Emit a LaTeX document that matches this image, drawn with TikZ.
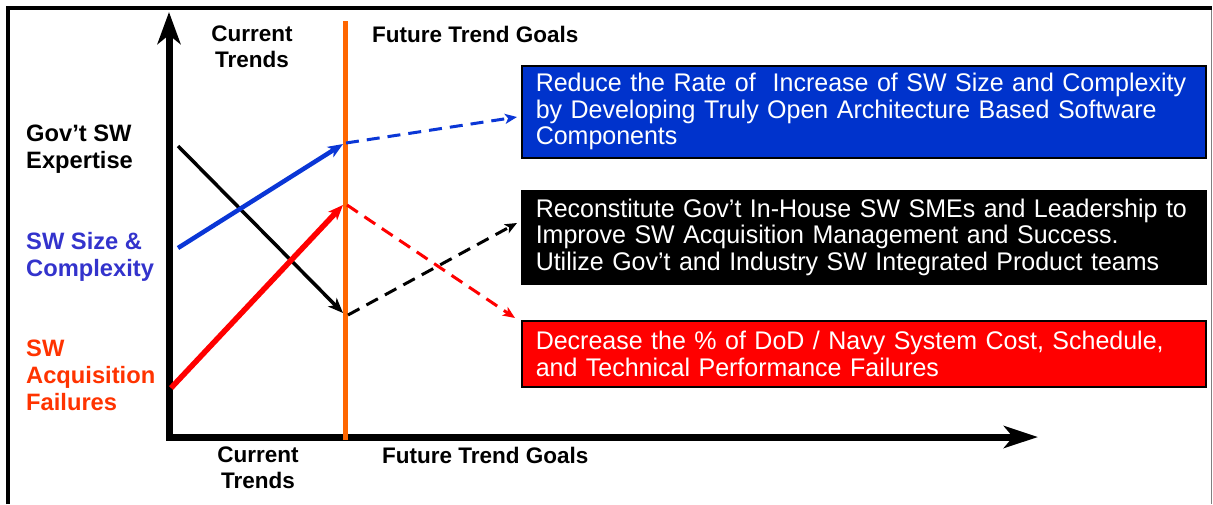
\documentclass[tikz,border=0pt]{standalone}
\usepackage{fontspec}
\setmainfont{Liberation Sans}
\newfontfamily\goalfont[FakeStretch=0.98]{Liberation Sans}
\usepackage{tikz}
\usetikzlibrary{positioning, arrows.meta}
\definecolor{goalblue}{HTML}{0033CC}
\definecolor{goalred}{HTML}{FF0000}
\definecolor{labelblue}{HTML}{3333CC}
\definecolor{labelred}{HTML}{FF3300}
\definecolor{splitorange}{HTML}{FF6600}
\definecolor{lineblue}{HTML}{0A36D6}
\tikzset{
    %Define style for goal boxes
    goalbox/.style={
           rectangle,
           draw=black, line width=1.5pt,
           text=white,
           font=\goalfont\fontsize{25.5}{26.5}\selectfont,
           text width=656pt,
           inner xsep=14pt,
           minimum height=92pt,
           align=left,
           anchor=north west},
 %
    axislabel/.style={
           font=\bfseries\fontsize{22.5}{26}\selectfont,
           inner sep=0pt,
           align=center},
 %
    sidelabel/.style={
           font=\bfseries\fontsize{23.7}{27}\selectfont,
           inner sep=0pt,
           align=left,
           anchor=west},
%
    % Define arrow styles
    trend/.style={
           line width=#1,
           -{Stealth[length=15pt,width=12pt,inset=4pt]}},
    goal/.style={
           line width=3pt,
           dash pattern=on 13pt off 8pt,
           -{Stealth[length=12pt,width=10pt,inset=3pt]}},
    axis/.style={
           line width=7pt,
           {Stealth[length=32pt,width=23pt,inset=9pt]}-{Stealth[length=34pt,width=22pt,inset=9pt]}}
}

\begin{document}
\begin{tikzpicture}[x=1pt, y=-1pt]
  \useasboundingbox (0,0) rectangle (1213,504);

  % frame
  \draw[line width=4pt] (8,504) -- (8,8) -- (1212,8);
  \draw[gray, line width=1pt] (1211,10) -- (1211,504);

  % axes
  \coordinate (ytip) at (169,12);
  \coordinate (origin) at (169,437);
  \coordinate (xtip) at (1038,437);
  \draw[axis] (ytip) -- (origin) -- (xtip);

  % now / future split
  \coordinate (splittop) at (345,21);
  \coordinate (splitbot) at (345,440);
  \draw[splitorange, line width=5pt] (splittop) -- (splitbot);

  % labels
  \node[axislabel] (nowtop) at (252,46.5) {Current\\Trends};
  \node[axislabel, anchor=west] (goaltop) at (372,34) {Future Trend Goals};
  \node[axislabel] (nowbot) at (258,467.5) {Current\\Trends};
  \node[axislabel, anchor=west] (goalbot) at (382,455) {Future Trend Goals};

  \node[sidelabel] (gov) at (26,149) {Gov’t SW\\Expertise};
  \node[sidelabel, text=labelblue] (size) at (26,256.5) {SW Size \&\\Complexity};
  \node[sidelabel, text=labelred] (fail) at (26,375) {SW\\Acquisition\\Failures};

  % goal boxes
  \node[goalbox, fill=goalblue] (reduce) at (521,65)
    {Reduce the Rate of~ Increase of SW Size and Complexity\\
     by Developing Truly Open Architecture Based Software\\
     Components};
  \node[goalbox, fill=black, minimum height=93pt] (rebuild) at (521,190)
    {Reconstitute Gov’t In-House SW SMEs and Leadership to\\
     Improve SW Acquisition Management and Success.\\
     Utilize Gov’t and Industry SW Integrated Product teams};
  \node[goalbox, fill=goalred, minimum height=66pt] (decrease) at (521,320)
    {Decrease the \% of DoD / Navy System Cost, Schedule,\\
     and Technical Performance Failures};

  % current trends
  \coordinate (govstart) at (178,146);
  \coordinate (govnow) at (343,313);
  \coordinate (sizestart) at (178,248);
  \coordinate (sizenow) at (343,144);
  \coordinate (failstart) at (171,388);
  \coordinate (failnow) at (343,205);
  \draw[trend=3.5pt] (govstart) -- (govnow);
  \draw[trend=4.5pt, lineblue] (sizestart) -- (sizenow);
  \draw[trend=5.5pt, goalred] (failstart) -- (failnow);

  % future goals
  \coordinate (govgo) at (348,315);
  \coordinate (govend) at (517,223);
  \coordinate (sizego) at (346,143);
  \coordinate (sizeend) at (517,117);
  \coordinate (failgo) at (347,205);
  \coordinate (failend) at (515,318);
  \draw[goal, lineblue] (sizego) -- (sizeend);
  \draw[goal] (govgo) -- (govend);
  \draw[goal, goalred] (failgo) -- (failend);
\end{tikzpicture}
\end{document}
